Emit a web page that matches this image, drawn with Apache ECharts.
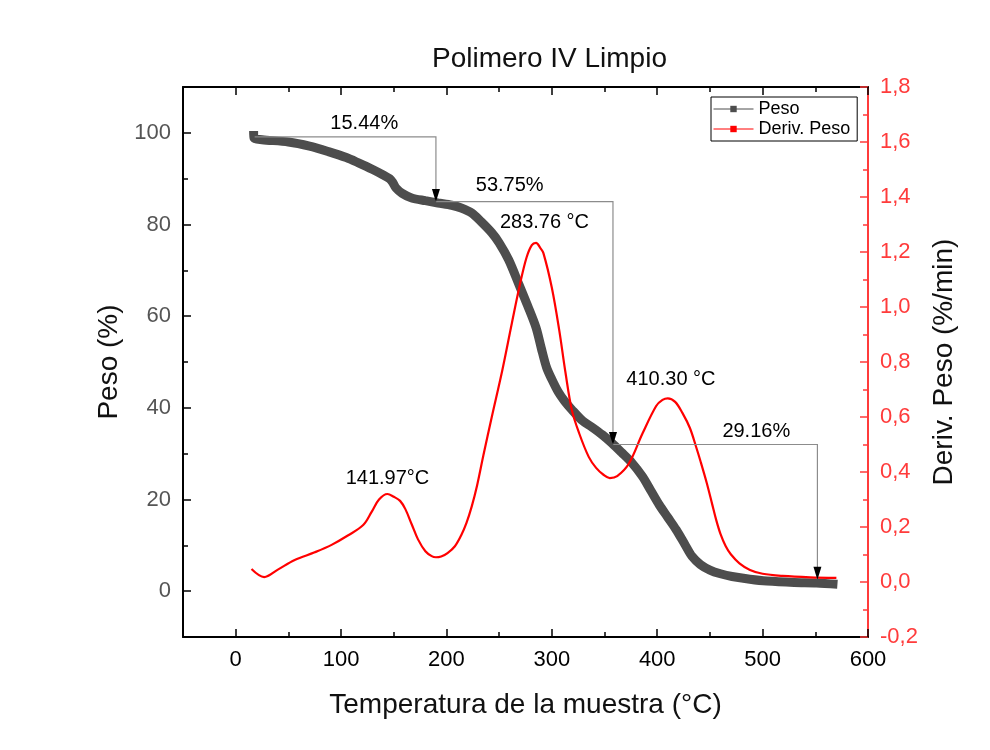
<!DOCTYPE html>
<html lang="es">

<head>
  <meta charset="UTF-8">
  <title>Polimero IV Limpio</title>
  <script src="https://cdn.jsdelivr.net/npm/echarts@6.0.0/dist/echarts.min.js"></script>
</head>

<body style="margin:0;background:#fff">
  <div id="chart" style="width: 990px;height: 750px;"></div>
  <script>
    // curva TGA: temperatura (°C) -> peso (%)
    const tempPeso = [17, 17.5, 25, 50, 70, 88, 105, 116, 130, 140, 146, 149, 152, 158, 167, 180, 192, 205, 214, 224,
      233, 243, 250, 259, 269, 277, 285, 290, 295, 300, 306, 312, 319, 329, 338, 348, 357, 366, 376, 386,
      394, 402, 410, 418, 426, 433, 441, 450, 460, 471, 488, 504, 530, 551, 571]
    const peso = [100.4, 98.8, 98.5, 98.0, 97.1, 95.9, 94.6, 93.5, 92.0, 90.8, 90.0, 89.2, 88.0, 86.8, 85.8, 85.2, 84.7, 84.2, 83.6, 82.5,
      80.6, 78.2, 76.0, 72.3, 66.8, 62.3, 57.5, 53.0, 48.8, 46.2, 43.5, 41.5, 39.6, 37.2, 35.8, 34.1, 32.3, 30.3, 28.0, 25.0,
      21.9, 18.8, 16.1, 13.4, 10.3, 7.6, 5.8, 4.6, 3.8, 3.2, 2.6, 2.2, 1.9, 1.8, 1.5]

    // curva DTG: temperatura (°C) -> derivada del peso (%/min)
    const tempDeriv = [15, 27, 40, 56, 75, 91, 106, 121, 129, 136, 144, 150, 156, 161, 167, 173, 180, 186, 190, 195,
      201, 208, 214, 219, 224, 229, 235, 243, 253, 262, 270, 276, 281, 285, 289, 292, 300, 307, 313, 319,
      326, 335, 342, 349, 355, 362, 373, 386, 399, 405, 410, 417, 424, 431, 437, 441, 447, 452, 456, 460,
      465, 470, 478, 488, 500, 519, 545, 570]
    const derivPeso = [0.047, 0.018, 0.045, 0.08, 0.108, 0.135, 0.168, 0.207, 0.255, 0.30, 0.32, 0.31, 0.295, 0.265, 0.21, 0.155, 0.112, 0.094, 0.09, 0.093,
      0.105, 0.13, 0.17, 0.215, 0.275, 0.35, 0.46, 0.60, 0.77, 0.94, 1.087, 1.18, 1.225, 1.233, 1.215, 1.196, 1.07, 0.916, 0.76, 0.625,
      0.54, 0.455, 0.415, 0.39, 0.378, 0.385, 0.43, 0.54, 0.64, 0.662, 0.668, 0.655, 0.614, 0.56, 0.49, 0.44, 0.36, 0.285, 0.225, 0.175,
      0.13, 0.10, 0.068, 0.044, 0.03, 0.022, 0.017, 0.015]

    // ticks
    const xTicks = [0, 100, 200, 300, 400, 500, 600]
    const xMinorTicks = [50, 150, 250, 350, 450, 550]
    const pesoTicks = [0, 20, 40, 60, 80, 100]
    const pesoMinorTicks = [10, 30, 50, 70, 90]

    // escalones de pérdida de peso (temperatura, peso)
    const steps = [
      [[18, 99.1], [190, 99.1], [190, 85]],
      [[190, 85], [358, 85], [358, 32]],
      [[358, 32], [552, 32], [552, 2.6]]
    ]

    // textos de las anotaciones
    const noteText = ['15.44%', '53.75%', '29.16%', '283.76 °C', '410.30 °C', '141.97°C']
    const noteTemp = [122, 260, 494, 293, 413, 144]
    const notePeso = [102, 88.5, 34.9, 80.4, 46.2, 24.6]

    const font = 'Arial, "Liberation Sans", sans-serif'
    const red = '#ff3b3b'

    function xAxisCfg(position, ticks, len, main) {
      return {
        type: 'value',
        position,
        min: -50,
        max: 600,
        axisLine: { show: main, onZero: false, lineStyle: { color: '#000', width: 2 } },
        axisTick: { inside: true, length: len, customValues: ticks, lineStyle: { color: '#000', width: 1.5 } },
        axisLabel: { show: main && position === 'bottom', customValues: ticks, color: '#000', fontSize: 22, margin: 12 },
        splitLine: { show: false }
      }
    }

    function pesoAxisCfg(ticks, len, main) {
      return {
        type: 'value',
        position: 'left',
        min: -10,
        max: 110,
        axisLine: { show: main, onZero: false, lineStyle: { color: '#000', width: 2 } },
        axisTick: { inside: true, length: len, customValues: ticks, lineStyle: { color: '#000', width: 1.5 } },
        axisLabel: { show: main, customValues: ticks, color: '#555', fontSize: 22, margin: 12 },
        splitLine: { show: false }
      }
    }

    const myChart = echarts.init(document.getElementById('chart'))

    const bottomAxis = Object.assign(xAxisCfg('bottom', xTicks, 8, true), {
      name: 'Temperatura de la muestra (°C)',
      nameLocation: 'middle',
      nameGap: 54,
      nameTextStyle: { fontSize: 28, color: '#111' }
    })

    const leftAxis = Object.assign(pesoAxisCfg(pesoTicks, 8, true), {
      name: 'Peso (%)',
      nameLocation: 'middle',
      nameRotate: 90,
      nameGap: 55,
      nameTextStyle: { fontSize: 28, color: '#111' }
    })

    const option = {
      animation: false,
      backgroundColor: '#fff',
      textStyle: { fontFamily: font },
      title: {
        text: 'Polimero IV Limpio',
        left: 432,
        top: 45,
        padding: 0,
        textStyle: { fontSize: 28, fontWeight: 'normal', color: '#111' }
      },
      legend: {
        data: ['Peso', 'Deriv. Peso'],
        orient: 'vertical',
        left: 711,
        top: 97,
        padding: [3, 7, 3, 2],
        itemGap: 2,
        itemWidth: 40,
        itemHeight: 8,
        borderColor: '#000',
        borderWidth: 1,
        backgroundColor: '#fff',
        textStyle: { fontSize: 18, color: '#000' },
        lineStyle: { width: 1 }
      },
      grid: { left: 183, right: 122, top: 87, bottom: 113 },
      xAxis: [
        bottomAxis,
        xAxisCfg('bottom', xMinorTicks, 5, false),
        xAxisCfg('top', xTicks, 8, true),
        xAxisCfg('top', xMinorTicks, 5, false)
      ],
      yAxis: [
        leftAxis,
        pesoAxisCfg(pesoMinorTicks, 5, false),
        {
          type: 'value',
          position: 'right',
          min: -0.2,
          max: 1.8,
          interval: 0.2,
          name: 'Deriv. Peso (%/min)',
          nameLocation: 'middle',
          nameRotate: 90,
          nameGap: 62,
          nameTextStyle: { fontSize: 28, color: '#111' },
          axisLine: { show: true, onZero: false, lineStyle: { color: red, width: 2 } },
          axisTick: { inside: true, length: 8, lineStyle: { color: red, width: 1.5 } },
          minorTick: { show: true, splitNumber: 2, length: 5, lineStyle: { color: red, width: 1.5 } },
          axisLabel: {
            color: red,
            fontSize: 22,
            margin: 12,
            formatter: v => v.toFixed(1).replace('.', ',')
          },
          splitLine: { show: false }
        }
      ],
      series: [
        {
          name: 'Peso',
          type: 'line',
          xAxisIndex: 0,
          yAxisIndex: 0,
          data: tempPeso.map((t, i) => [t, peso[i]]),
          symbol: 'rect',
          symbolSize: 7,
          showSymbol: false,
          smooth: 0.3,
          itemStyle: { color: '#4d4d4d' },
          lineStyle: { color: '#4d4d4d', width: 9, cap: 'butt' },
          z: 2
        },
        {
          name: 'Deriv. Peso',
          type: 'line',
          xAxisIndex: 0,
          yAxisIndex: 2,
          data: tempDeriv.map((t, i) => [t, derivPeso[i]]),
          symbol: 'rect',
          symbolSize: 7,
          showSymbol: false,
          smooth: 0.35,
          itemStyle: { color: '#ff0000' },
          lineStyle: { color: '#ff0000', width: 2.2 },
          z: 3
        },
        {
          // líneas de los escalones
          type: 'lines',
          coordinateSystem: 'cartesian2d',
          xAxisIndex: 0,
          yAxisIndex: 0,
          polyline: true,
          silent: true,
          data: steps.map(c => ({ coords: c })),
          lineStyle: { color: '#8c8c8c', width: 1.2, opacity: 1 },
          z: 4
        },
        {
          // flechas
          type: 'scatter',
          xAxisIndex: 0,
          yAxisIndex: 0,
          silent: true,
          data: steps.map(c => c[c.length - 1]),
          symbol: 'triangle',
          symbolRotate: 180,
          symbolSize: [8, 13],
          symbolOffset: [0, -6],
          itemStyle: { color: '#000', opacity: 1 },
          z: 5
        },
        {
          // textos
          type: 'scatter',
          xAxisIndex: 0,
          yAxisIndex: 0,
          silent: true,
          symbolSize: 0,
          data: noteText.map((s, i) => ({ name: s, value: [noteTemp[i], notePeso[i]] })),
          itemStyle: { opacity: 1 },
          label: {
            show: true,
            position: 'inside',
            formatter: '{b}',
            fontSize: 20,
            color: '#000',
            opacity: 1
          },
          z: 6
        }
      ]
    }

    myChart.setOption(option)
  </script>
</body>

</html>
